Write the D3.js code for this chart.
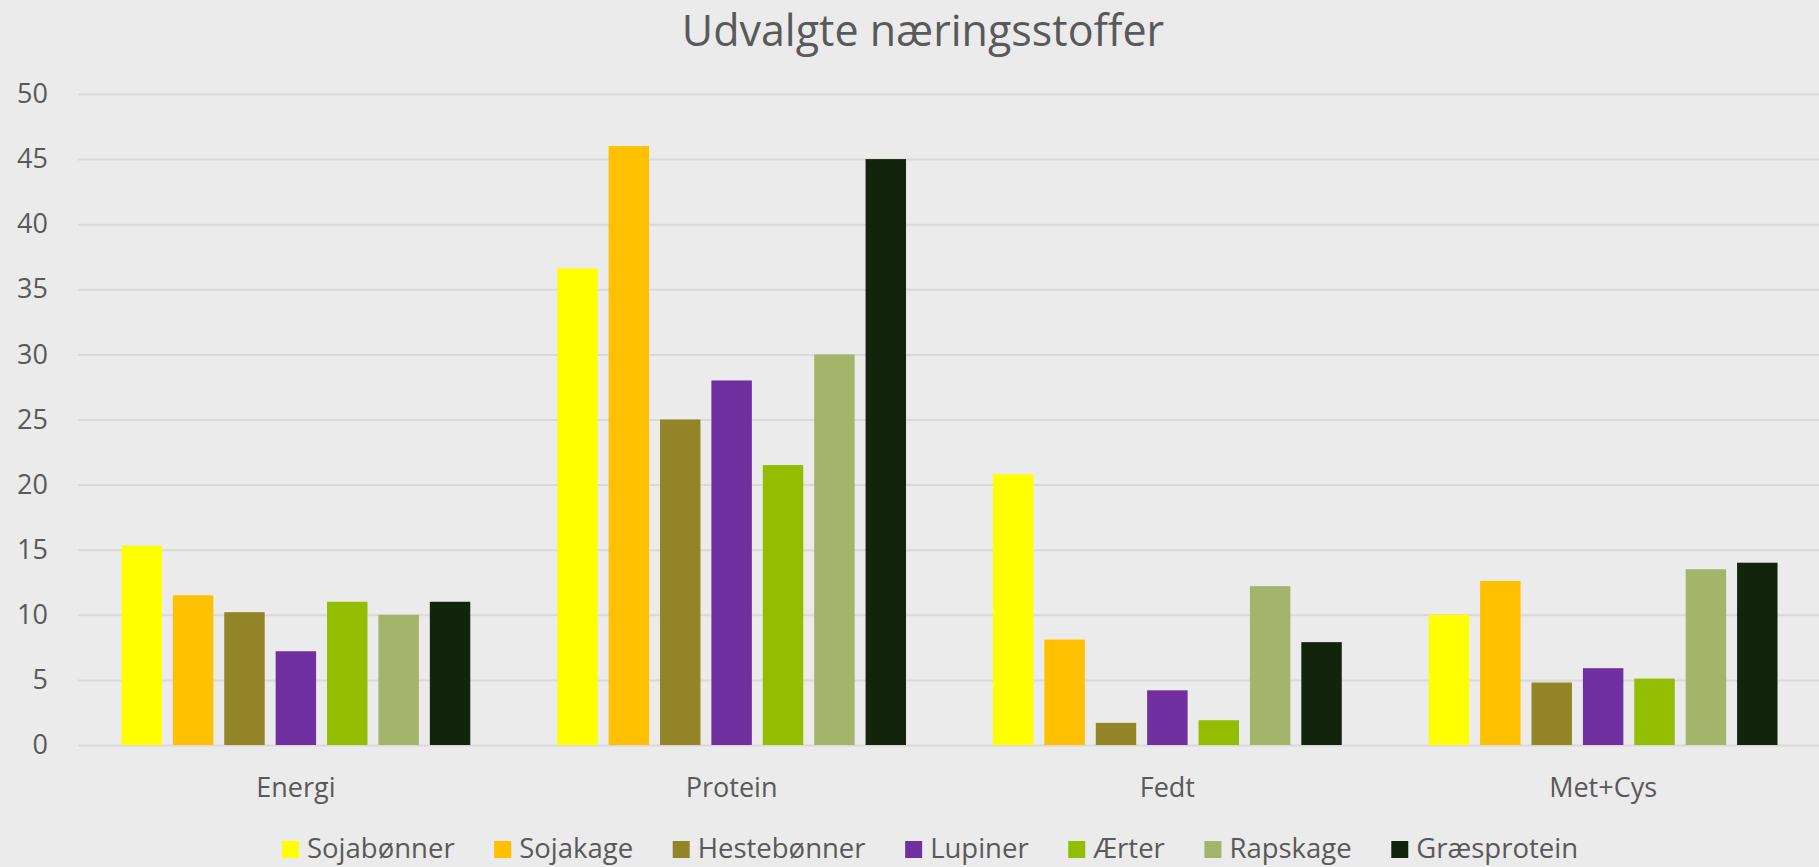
<!DOCTYPE html>
<html>
<head>
<meta charset="utf-8">
<script src="https://cdn.jsdelivr.net/npm/d3@7"></script>
<style>
    html, body { margin: 0; padding: 0; background: #ebebeb; }
    svg { display: block; font-family: "Open Sans", sans-serif; }
</style>
</head>
<body>
<svg id="chart" width="1819" height="867"></svg>
<script>
// values
var categories = ["Energi", "Protein", "Fedt", "Met+Cys"],
    series = ["Sojabønner", "Sojakage", "Hestebønner", "Lupiner", "Ærter", "Rapskage", "Græsprotein"],
    colors = ["#ffff00", "#ffc000", "#948428", "#7030a0", "#92bd00", "#a4b46a", "#12250c"],
    sojabonner  = [15.3, 36.6, 20.8, 10.0],
    sojakage    = [11.5, 46.0,  8.1, 12.6],
    hestebonner = [10.2, 25.0,  1.7,  4.8],
    lupiner     = [ 7.2, 28.0,  4.2,  5.9],
    aerter      = [11.0, 21.5,  1.9,  5.1],
    rapskage    = [10.0, 30.0, 12.2, 13.5],
    graesprotein= [11.0, 45.0,  7.9, 14.0],
    yTicks = [0, 5, 10, 15, 20, 25, 30, 35, 40, 45, 50],
    title = "Udvalgte næringsstoffer"
;

var values = [sojabonner, sojakage, hestebonner, lupiner, aerter, rapskage, graesprotein];

var svg = d3.select("#chart"),
    plotLeft = 78,
    plotRight = 1821,
    plotTop = 94,
    plotBottom = 745,
    textColor = "#595959"
;

svg.append("rect")
    .attr("width", 1819)
    .attr("height", 867)
    .attr("fill", "#ebebeb");

var x0 = d3.scaleBand().domain(categories).range([plotLeft, plotRight]).padding(0),
    x1 = d3.scaleBand().domain(series).range([0, x0.bandwidth()])
        .paddingInner(0.213).paddingOuter(0.846),
    y = d3.scaleLinear().domain([0, 50]).range([plotBottom, plotTop]);

// gridlines + y labels
var yAxis = svg.append("g")
    .attr("transform", "translate(" + plotLeft + ",0)")
    .call(d3.axisLeft(y).tickValues(yTicks).tickSize(-(plotRight - plotLeft)).tickPadding(30));

yAxis.select(".domain").remove();
yAxis.selectAll(".tick line")
    .attr("stroke", "#d9d9d9")
    .attr("stroke-width", 2);
yAxis.selectAll(".tick text")
    .attr("fill", textColor)
    .attr("font-size", 27)
    .attr("font-family", "Open Sans, sans-serif");

// bars
var rows = [];
categories.forEach(function(cat, ci) {
    series.forEach(function(s, si) {
        rows.push({ cat: cat, series: s, value: values[si][ci], color: colors[si] });
    });
});

svg.append("g")
    .selectAll("rect")
    .data(rows)
    .enter().append("rect")
    .attr("x", d => x0(d.cat) + x1(d.series))
    .attr("y", d => y(d.value))
    .attr("width", x1.bandwidth())
    .attr("height", d => y(0) - y(d.value))
    .attr("fill", d => d.color);

// x labels
var xAxis = svg.append("g")
    .attr("transform", "translate(0," + plotBottom + ")")
    .call(d3.axisBottom(x0).tickSize(0).tickPadding(33));

xAxis.select(".domain").remove();
xAxis.selectAll(".tick text")
    .attr("fill", textColor)
    .attr("font-size", 27)
    .attr("font-family", "Open Sans, sans-serif");

// title
svg.append("text")
    .attr("x", 923)
    .attr("y", 46)
    .attr("text-anchor", "middle")
    .attr("fill", textColor)
    .attr("font-size", 43)
    .text(title);

// legend, spread between the same left and right edges as the reference
var legendLeft = 282,
    legendRight = 1578,
    legend = svg.append("g"),
    items = legend.selectAll("g")
        .data(series)
        .enter().append("g");

items.append("rect")
    .attr("y", 841)
    .attr("width", 17)
    .attr("height", 17)
    .attr("fill", (d, i) => colors[i]);

items.append("text")
    .attr("x", 25)
    .attr("y", 858)
    .attr("fill", textColor)
    .attr("font-size", 27.5)
    .text(d => d);

var widths = [];
items.each(function() {
    widths.push(25 + d3.select(this).select("text").node().getComputedTextLength());
});
var gap = (legendRight - legendLeft - d3.sum(widths)) / (series.length - 1),
    pos = legendLeft;
items.attr("transform", function(d, i) {
    var t = "translate(" + pos + ",0)";
    pos += widths[i] + gap;
    return t;
});
</script>
</body>
</html>
